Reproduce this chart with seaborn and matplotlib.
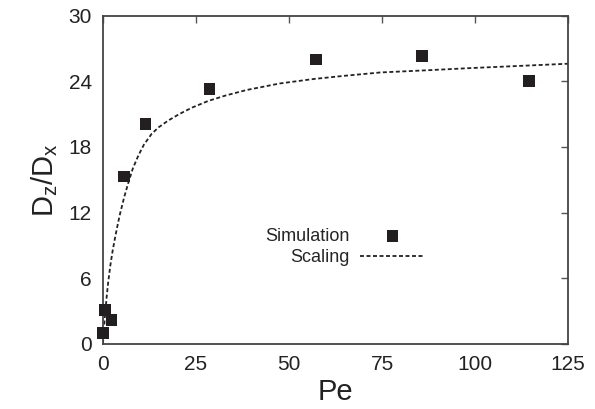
import pandas as pd
import numpy as np
import matplotlib
matplotlib.use('Agg')
import matplotlib.pyplot as plt
import seaborn as sns

# Simulation points
pe_sim = [0.06, 0.57, 2.3, 5.7, 11.4, 28.6, 57.2, 85.8, 114.4]
ratio_sim = [1.0, 3.1, 2.2, 15.3, 20.1, 23.3, 26.0, 26.3, 24.0]

# Scaling curve
pe_fit = [0.0, 0.5, 1.0, 1.4, 2.0, 2.6, 3.2, 3.9, 4.6, 5.7, 6.8, 8.0, 9.5,
          11.0, 13.1, 15.0, 17.5, 20.5, 24.0, 28.3, 33.0, 38.6, 47.6, 56.5,
          65.0, 74.5, 87.0, 98.7, 112.0, 125.0]
ratio_fit = [0.0, 2.4, 4.3, 5.6, 7.2, 8.5, 9.6, 10.8, 11.9, 13.4, 14.7, 16.0, 17.2,
             18.2, 19.2, 19.8, 20.4, 21.0, 21.6, 22.2, 22.7, 23.2, 23.8, 24.2,
             24.5, 24.8, 25.0, 25.2, 25.4, 25.6]

x_ticks = [0, 25, 50, 75, 100, 125]
y_ticks = [0, 6, 12, 18, 24, 30]

sim = pd.DataFrame({'Pe': pe_sim, 'ratio': ratio_sim})
fit = pd.DataFrame({'Pe': pe_fit, 'ratio': ratio_fit})

sns.set_theme(style='white')
plt.rcParams['font.family'] = ['Liberation Sans', 'DejaVu Sans']
plt.rcParams['mathtext.default'] = 'regular'

fig = plt.figure(figsize=(5.95, 4.09), dpi=100)
ax = fig.add_axes([0.173, 0.159, 0.782, 0.803])

sns.lineplot(data=fit, x='Pe', y='ratio', ax=ax, sort=False, color='#222222',
             lw=1.3, dashes=False, label='Scaling', zorder=2)
ax.lines[-1].set_linestyle((0, (2.2, 1.4)))
sns.scatterplot(data=sim, x='Pe', y='ratio', ax=ax, marker='s', s=70,
                color='#231f20', edgecolor='none', label='Simulation', zorder=3,
                clip_on=False)

ax.set_xlim(0, 125)
ax.set_ylim(0, 30)
ax.set_xticks(x_ticks)
ax.set_yticks(y_ticks)
ax.tick_params(direction='in', length=5, width=1, color='#555555',
               top=True, right=True, labelsize=15, pad=8, labelcolor='#222222')
for s in ax.spines.values():
    s.set_color('#444444')
    s.set_linewidth(1.3)

ax.set_xlabel('Pe', fontsize=21, color='#222222', labelpad=3)
ax.set_ylabel('$D_z/D_x$', fontsize=21, color='#222222', labelpad=6)

handles, labels = ax.get_legend_handles_labels()
order = [labels.index('Simulation'), labels.index('Scaling')]
ax.legend([handles[i] for i in order], [labels[i] for i in order],
          markerfirst=False, frameon=False, fontsize=13, loc='center',
          bbox_to_anchor=(0.52, 0.295), handlelength=3.6, handletextpad=0.6,
          labelspacing=0.25, borderaxespad=0)

fig.savefig('out.png', dpi=100)
